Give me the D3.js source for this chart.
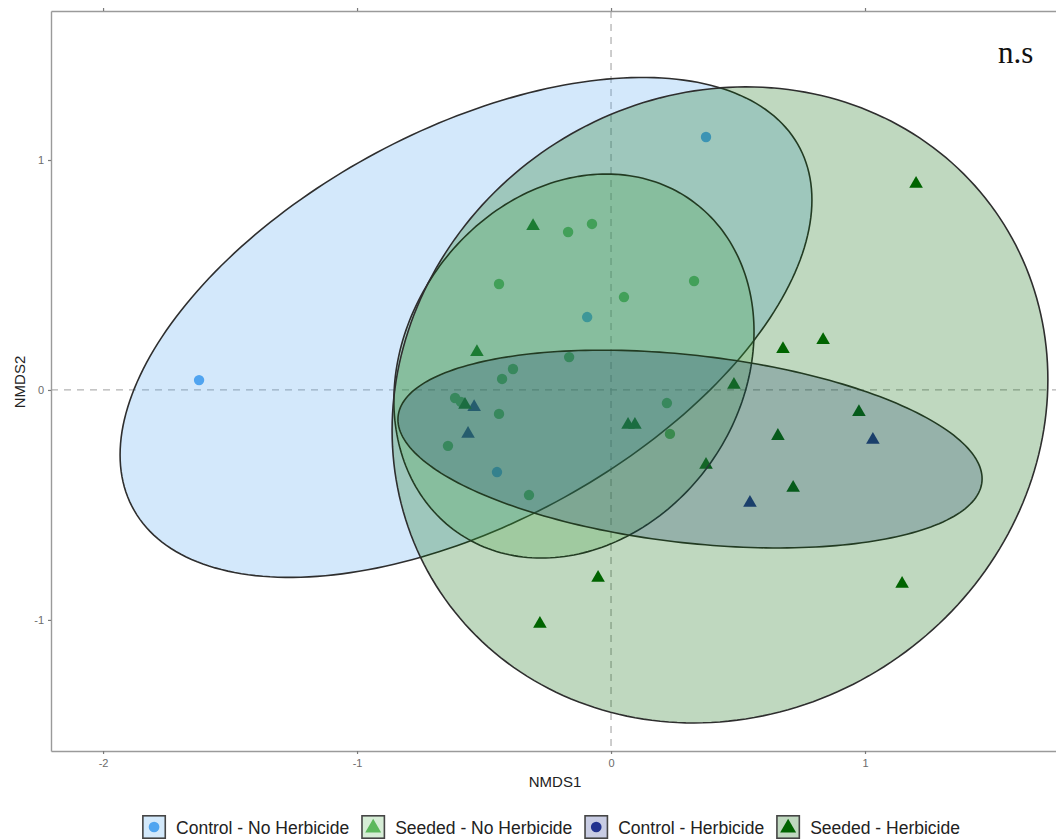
<!DOCTYPE html>
<html>
<head>
<meta charset="utf-8">
<script src="https://cdn.jsdelivr.net/npm/d3@7"></script>
<style>
  html, body { margin: 0; padding: 0; background: #fff; }
  svg { display: block; }
</style>
</head>
<body>
<svg id="chart" width="1056" height="840"></svg>
<script>
// ---- data -------------------------------------------------------------
const groups = ["Control - No Herbicide", "Seeded - No Herbicide", "Control - Herbicide", "Seeded - Herbicide"];
const groupColors = ["#50a5f0", "#5cb85c", "#23338f", "#006400"];
const pointShapes = ["circle", "circle", "triangle", "triangle"];
const legendShapes = ["circle", "triangle", "circle", "triangle"];

const xTicks = [-2, -1, 0, 1];
const yTicks = [-1, 0, 1];

// NMDS scores per treatment
const ctrlNoHerbX = [-1.622, 0.374, -0.094, -0.449];
const ctrlNoHerbY = [0.043, 1.100, 0.317, -0.357];

const seedNoHerbX = [-0.169, -0.075, -0.441, 0.051, 0.327, -0.165, -0.386, -0.429, -0.614, -0.591, -0.441, -0.642, -0.323, 0.220, 0.232];
const seedNoHerbY = [0.687, 0.722, 0.461, 0.404, 0.474, 0.143, 0.091, 0.048, -0.035, -0.052, -0.104, -0.243, -0.457, -0.057, -0.191];

const ctrlHerbX = [-0.539, -0.563, 0.547, 1.031];
const ctrlHerbY = [-0.074, -0.191, -0.491, -0.217];

const seedHerbX = [-0.307, -0.528, 0.067, 0.094, 0.374, 0.677, 0.835, 0.484, 0.976, 0.657, 0.717, 1.146, 1.201, -0.051, -0.280, -0.575];
const seedHerbY = [0.713, 0.165, -0.152, -0.152, -0.326, 0.178, 0.217, 0.022, -0.096, -0.200, -0.426, -0.843, 0.896, -0.817, -1.017, -0.065];

// Confidence ellipses: centre, spread on each axis, correlation
const ellipseCx = [-0.571, -0.146, 0.311, 0.429];
const ellipseCy = [0.272, 0.104, -0.257, -0.065];
const ellipseSx = [1.362, 0.709, 1.150, 1.291];
const ellipseSy = [1.087, 0.835, 0.430, 1.383];
const ellipseR  = [0.51, 0.18, -0.30, 0.08];

const significance = "n.s";

// ---- layout -----------------------------------------------------------
const panel = { left: 51, top: 11, right: 1056, bottom: 751 };
const svg = d3.select("#chart");
const sans = "'Liberation Sans', Arial, Helvetica, sans-serif";

const x = d3.scaleLinear().domain([-2.205, 1.752]).range([panel.left, panel.right]);
const y = d3.scaleLinear().domain([-1.570, 1.648]).range([panel.bottom, panel.top]);

svg.append("defs").append("clipPath").attr("id", "panelClip")
  .append("rect")
  .attr("x", panel.left).attr("y", panel.top)
  .attr("width", panel.right - panel.left).attr("height", panel.bottom - panel.top);

const plot = svg.append("g").attr("clip-path", "url(#panelClip)");

// reference lines at the origin
plot.append("line")
  .attr("x1", x(0)).attr("x2", x(0))
  .attr("y1", panel.top).attr("y2", panel.bottom)
  .attr("stroke", "#b3b3b3").attr("stroke-width", 1.3).attr("stroke-dasharray", "7,6");
plot.append("line")
  .attr("x1", panel.left).attr("x2", panel.right)
  .attr("y1", y(0)).attr("y2", y(0))
  .attr("stroke", "#b3b3b3").attr("stroke-width", 1.3).attr("stroke-dasharray", "7,6");

// points
const pointSets = [
  [ctrlNoHerbX, ctrlNoHerbY],
  [seedNoHerbX, seedNoHerbY],
  [ctrlHerbX, ctrlHerbY],
  [seedHerbX, seedHerbY]
];
const circleSym = d3.symbol().type(d3.symbolCircle).size(85);
const triSym = d3.symbol().type(d3.symbolTriangle).size(80);

pointSets.forEach(([xs, ys], gi) => {
  const pts = xs.map((v, i) => ({ x: v, y: ys[i] }));
  plot.append("g").selectAll("path").data(pts).join("path")
    .attr("transform", d => `translate(${x(d.x)},${y(d.y)})`)
    .attr("d", pointShapes[gi] === "circle" ? circleSym() : triSym())
    .attr("fill", groupColors[gi]);
});

// ellipses, drawn over the points
const line = d3.line().x(d => x(d[0])).y(d => y(d[1])).curve(d3.curveLinearClosed);
groups.forEach((g, gi) => {
  const theta = Math.acos(ellipseR[gi]);
  const ring = d3.range(240).map(k => {
    const t = (k / 240) * 2 * Math.PI;
    return [ellipseCx[gi] + ellipseSx[gi] * Math.cos(t),
            ellipseCy[gi] + ellipseSy[gi] * Math.cos(t - theta)];
  });
  plot.append("path")
    .attr("d", line(ring))
    .attr("fill", groupColors[gi])
    .attr("fill-opacity", 0.25)
    .attr("stroke", "#2e2e2e")
    .attr("stroke-width", 1.6);
});

// ---- axes -------------------------------------------------------------
const fmt = d => String(d);
function styleAxis(g) {
  g.select(".domain").attr("stroke", "#9a9a9a").attr("stroke-width", 1.4);
  g.selectAll(".tick line").attr("stroke", "#7a7a7a").attr("stroke-width", 1.2);
  g.selectAll(".tick text").attr("fill", "#6b6b6b").style("font-size", "11px").style("font-family", sans);
}
svg.append("g").attr("transform", `translate(0,${panel.bottom})`)
  .call(d3.axisBottom(x).tickValues(xTicks).tickFormat(fmt).tickSize(3).tickSizeOuter(0).tickPadding(5))
  .call(styleAxis);
svg.append("g").attr("transform", `translate(0,${panel.top})`)
  .call(d3.axisTop(x).tickValues(xTicks).tickFormat("").tickSize(3).tickSizeOuter(0))
  .call(styleAxis);
svg.append("g").attr("transform", `translate(${panel.left},0)`)
  .call(d3.axisLeft(y).tickValues(yTicks).tickFormat(fmt).tickSize(3).tickSizeOuter(0).tickPadding(4))
  .call(styleAxis);

// axis titles
svg.append("text")
  .attr("x", 555).attr("y", 787)
  .attr("text-anchor", "middle")
  .style("font-family", sans).style("font-size", "15px").attr("fill", "#222")
  .text("NMDS1");
svg.append("text")
  .attr("transform", "translate(25,382) rotate(-90)")
  .attr("text-anchor", "middle")
  .style("font-family", sans).style("font-size", "15px").attr("fill", "#222")
  .text("NMDS2");

// significance note
svg.append("text")
  .attr("x", 998).attr("y", 63)
  .style("font-family", "'Liberation Serif', 'Times New Roman', serif")
  .style("font-size", "31px").attr("fill", "#111")
  .text(significance);

// ---- legend -----------------------------------------------------------
const legend = svg.append("g");
const keySize = 24, keyGap = 10, itemGap = 12, legendTop = 815, legendCenter = 551;
const items = legend.selectAll("g.item").data(groups).join("g").attr("class", "item");
items.append("text")
  .attr("y", legendTop + 19)
  .style("font-family", sans).style("font-size", "17.5px").attr("fill", "#222")
  .text(d => d);
const widths = [];
items.select("text").each(function () { widths.push(this.getComputedTextLength()); });
const total = d3.sum(widths) + groups.length * (keySize + keyGap) + (groups.length - 1) * itemGap;
let cursor = legendCenter - total / 2;
items.each(function (d, i) {
  const item = d3.select(this);
  item.insert("rect", "text")
    .attr("x", cursor + 0.8).attr("y", legendTop + 0.8)
    .attr("width", keySize - 1.6).attr("height", keySize - 1.6)
    .attr("fill", d3.interpolateRgb("#ffffff", groupColors[i])(0.25))
    .attr("stroke", "#454545").attr("stroke-width", 1.6);
  item.insert("path", "text")
    .attr("transform", `translate(${cursor + keySize / 2},${legendTop + keySize / 2 + (legendShapes[i] === "triangle" ? 1 : 0)})`)
    .attr("d", legendShapes[i] === "circle" ? d3.symbol().type(d3.symbolCircle).size(90)() : d3.symbol().type(d3.symbolTriangle).size(110)())
    .attr("fill", groupColors[i]);
  item.select("text").attr("x", cursor + keySize + keyGap);
  cursor += keySize + keyGap + widths[i] + itemGap;
});
</script>
</body>
</html>
